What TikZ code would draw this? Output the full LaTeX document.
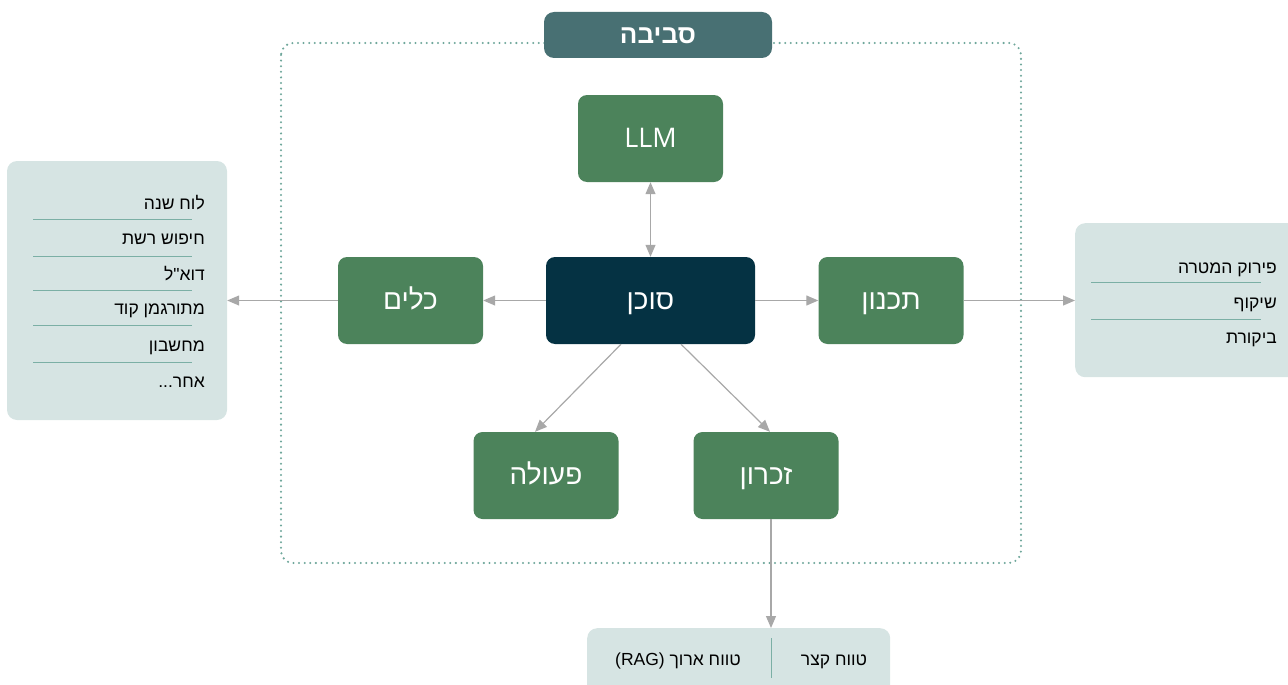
\documentclass[tikz,border=0pt]{standalone}
\usepackage{fontspec}
\setmainfont{Open Sans}
\newfontfamily\heb[Script=Hebrew]{Liberation Sans}
\TeXXeTstate=1
\usetikzlibrary{arrows.meta}
\newcommand\hbtxt[1]{\beginR #1\endR}
\definecolor{boxgreen}{HTML}{4C835B}
\definecolor{agentdark}{HTML}{053243}
\definecolor{titleteal}{HTML}{487073}
\definecolor{panelbg}{HTML}{D6E4E3}
\definecolor{sepline}{HTML}{7BAFA5}
\definecolor{dotcol}{HTML}{6FA79B}
\definecolor{arrgray}{HTML}{A8A8A8}
\tikzset{
  box/.style={rectangle, rounded corners=9pt, minimum width=145pt, minimum height=87pt, inner sep=0pt, text height=18pt, text depth=0pt, fill=boxgreen, text=white, font=\heb\fontsize{28}{32}\selectfont},
  agentbox/.style={box, fill=agentdark, minimum width=209pt},
  panel/.style={rectangle, rounded corners=10pt, fill=panelbg, inner sep=0pt},
  item/.style={anchor=base east, inner sep=0pt, text=black, font=\heb\fontsize{17.5}{20}\selectfont},
  sep/.style={draw=sepline, line width=0.8pt},
  arr/.style={draw=arrgray, line width=1.2pt, -{Triangle[length=12pt,width=10pt]}},
  biarr/.style={draw=arrgray, line width=1.2pt, {Triangle[length=12pt,width=10pt]}-{Triangle[length=12pt,width=10pt]}},
  envborder/.style={draw=dotcol, line width=2.3pt, line cap=round, dash pattern=on 0pt off 5.6pt, rounded corners=12pt},
  titlebox/.style={rectangle, rounded corners=10pt, fill=titleteal, text=white, minimum width=228pt, minimum height=46pt, inner sep=0pt, text height=18pt, text depth=0pt, font=\heb\bfseries\fontsize{26}{30}\selectfont}
}
\begin{document}
\begin{tikzpicture}[x=1pt,y=-1pt]
\useasboundingbox (0,0) rectangle (1288,685);
% environment border
\draw[envborder] (281,43) rectangle (1021,563);
\node[titlebox] (env) at (658,35) {\hbtxt{סביבה}};
% main nodes
\node[box, font=\fontsize{27}{30}\selectfont] (llm) at (650.5,138.5) {LLM};
\node[agentbox] (agent) at (650.5,300.5) {\hbtxt{סוכן}};
\node[box] (tools) at (410.5,300.5) {\hbtxt{כלים}};
\node[box] (plan) at (891,300.5) {\hbtxt{תכנון}};
\node[box] (action) at (546,475.5) {\hbtxt{פעולה}};
\node[box] (memory) at (766,475.5) {\hbtxt{זכרון}};
% left panel
\node[panel, minimum width=220pt, minimum height=259pt] (toolpanel) at (117,290.5) {};
\node[item] (t1) at (205,209) {\hbtxt{לוח שנה}};
\node[item] (t2) at (205,244) {\hbtxt{חיפוש רשת}};
\node[item] (t3) at (205,280) {\hbtxt{דוא"ל}};
\node[item] (t4) at (205,314) {\hbtxt{מתורגמן קוד}};
\node[item] (t5) at (205,351) {\hbtxt{מחשבון}};
\node[item] (t6) at (205,387) {\hbtxt{אחר...}};
\foreach \yy in {219,256,290,325,362} \draw[sep] (33,\yy) -- (192,\yy);
% right panel
\node[panel, minimum width=235pt, minimum height=154pt, anchor=north west] (planpanel) at (1075,223) {};
\node[item] (p1) at (1277,273) {\hbtxt{פירוק המטרה}};
\node[item] (p2) at (1277,308) {\hbtxt{שיקוף}};
\node[item] (p3) at (1277,343) {\hbtxt{ביקורת}};
\foreach \yy in {282,319} \draw[sep] (1091,\yy) -- (1261,\yy);
% bottom panel
\node[panel, minimum width=303pt, minimum height=80pt, anchor=north west] (mempanel) at (587,628) {};
\coordinate (memtop) at (771,628);
\node[item, anchor=base] (m1) at (834,665) {\hbtxt{טווח קצר}};
\node[item, anchor=base] (m2) at (678,665) {(RAG) \hbtxt{טווח ארוך}};
\draw[draw=sepline, line width=0.8pt] (771,638) -- (771,678);
% connectors
\draw[biarr] (llm.south) -- (agent.north);
\draw[arr] (agent.west) -- (tools.east);
\draw[arr] (tools.west) -- (toolpanel.east |- tools.west);
\draw[arr] (agent.east) -- (plan.west);
\draw[arr] (plan.east) -- (planpanel.west |- plan.east);
\draw[arr] ([xshift=-29.5pt]agent.south) -- ([xshift=-11pt]action.north);
\draw[arr] ([xshift=30.5pt]agent.south) -- ([xshift=4pt]memory.north);
\draw[arr] (memory.south -| memtop) -- (memtop);
\end{tikzpicture}
\end{document}
